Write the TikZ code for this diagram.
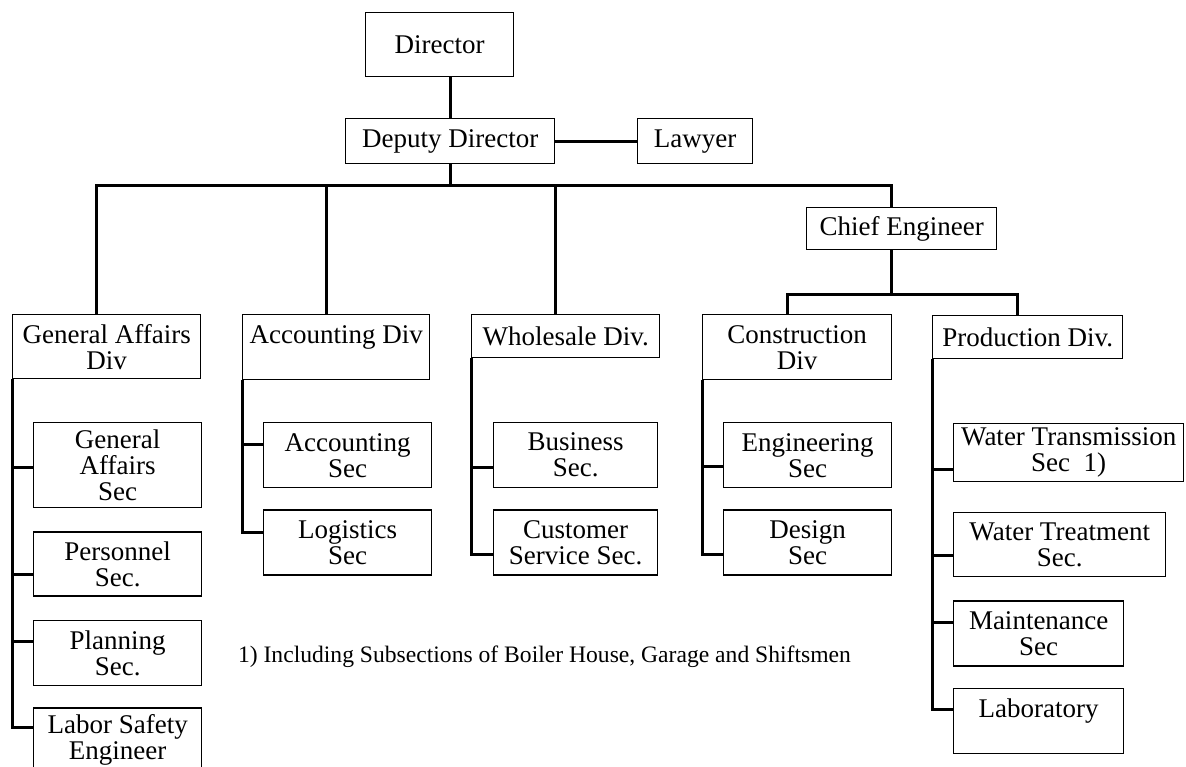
\documentclass[tikz,border=0pt]{standalone}
\usepackage{fontspec}
\setmainfont{Liberation Serif}
\usetikzlibrary{positioning}
\tikzset{%
    unit/.style = {draw, rectangle, line width=0.7pt, inner sep=2pt,
        anchor=north west, align=center, font=\fontsize{13.5}{13}\selectfont},
    link/.style = {line width=1.5pt}
}

\begin{document}
\begin{tikzpicture}[x=0.5pt, y=-0.5pt, node distance=11pt]
    \path[use as bounding box, clip] (0,0) rectangle (1186,766);
    % management
    \node [unit, minimum width=74pt, minimum height=32pt] (dir) at (365,12) {Director};
    \node [unit, minimum width=104.5pt, minimum height=22.5pt] (deputy) at (345,118) {Deputy Director};
    \node [unit, minimum width=57.5pt, minimum height=22.5pt] (lawyer) at (637,118) {Lawyer};
    \node [unit, minimum width=95pt, minimum height=21pt] (chief) at (806,207) {Chief Engineer};
    % divisions
    \node [unit, minimum width=94pt, minimum height=32pt] (gadiv) at (12,314) {General Affairs\\Div};
    \node [unit, minimum width=93.5pt, minimum height=32.5pt] (accdiv) at (242,314) {Accounting Div\\\mbox{}};
    \node [unit, minimum width=94pt, minimum height=21.5pt] (wsdiv) at (471,314) {Wholesale Div.};
    \node [unit, minimum width=94.5pt, minimum height=32.5pt] (condiv) at (702,314) {Construction\\Div};
    \node [unit, minimum width=95pt, minimum height=21.5pt] (prodiv) at (932,315) {Production Div.};
    % sections
    \node [unit, minimum width=84pt, minimum height=42.5pt] (gasec) at (33,422) {General\\Affairs\\Sec};
    \node [unit, minimum width=84pt, minimum height=32pt, below=11.5pt of gasec.south west, anchor=north west] (persec) {Personnel\\Sec.};
    \node [unit, minimum width=84pt, minimum height=32.5pt, below=11.5pt of persec.south west, anchor=north west] (plansec) {Planning\\Sec.};
    \node [unit, minimum width=84pt, minimum height=42.5pt, below=10.5pt of plansec.south west, anchor=north west] (safety) {Labor Safety\\Engineer\\\mbox{}};
    \node [unit, minimum width=84pt, minimum height=32.5pt] (accsec) at (263,422) {Accounting\\Sec};
    \node [unit, minimum width=84pt, minimum height=32.5pt, below=10.5pt of accsec.south west, anchor=north west] (logsec) {Logistics\\Sec};
    \node [unit, minimum width=82pt, minimum height=32.5pt] (bussec) at (493,422) {Business\\Sec.};
    \node [unit, minimum width=82pt, minimum height=32.5pt, below=10.5pt of bussec.south west, anchor=north west] (cussec) {Customer\\Service Sec.};
    \node [unit, minimum width=84pt, minimum height=32.5pt] (engsec) at (723,422) {Engineering\\Sec};
    \node [unit, minimum width=84pt, minimum height=32.5pt, below=10.5pt of engsec.south west, anchor=north west] (dessec) {Design\\Sec};
    \node [unit, minimum width=115pt, minimum height=28pt] (wtsec) at (953,423) {Water Transmission\\Sec\enspace 1)};
    \node [unit, minimum width=106pt, minimum height=32pt, below=15pt of wtsec.south west, anchor=north west] (wtrsec) {Water Treatment\\Sec.};
    \node [unit, minimum width=85pt, minimum height=32.5pt, below=11.5pt of wtrsec.south west, anchor=north west] (mntsec) {Maintenance\\Sec};
    \node [unit, minimum width=85pt, minimum height=32.5pt, below=10.5pt of mntsec.south west, anchor=north west] (labsec) {Laboratory\\\mbox{}};
    % note
    \node [anchor=west, font=\fontsize{11.8}{13}\selectfont] (note) at (231,657)
        {1) Including Subsections of Boiler House, Garage and Shiftsmen};
    % lines
    \draw[link] (deputy.north) -- (deputy.north |- dir.south);
    \draw[link] (deputy.east) -- (lawyer.west);
    \coordinate (bus) at ([yshift=-10.5pt]deputy.south);
    \draw[link] (deputy.south) -- (bus);
    \draw[link] ([xshift=-5pt]gadiv.north) |- (bus) -| ([xshift=-5pt]chief.north);
    \foreach \d in {accdiv, wsdiv}
        \draw[link] ([xshift=-5pt]\d.north) |- (bus);
    \coordinate (split) at ([xshift=-5pt, yshift=-22pt]chief.south);
    \draw[link] ([xshift=-5pt]chief.south) -- (split);
    \draw[link] ([xshift=-5pt]condiv.north) |- (split) -| ([xshift=-5pt]prodiv.north);
    \foreach \d/\s/\y in {gadiv/gasec/-1, gadiv/persec/-5, gadiv/plansec/6, gadiv/safety/11.5,
        accdiv/accsec/5.5, accdiv/logsec/5, wsdiv/bussec/-6, wsdiv/cussec/-6,
        condiv/engsec/-5.5, condiv/dessec/-6, prodiv/wtsec/-8.5, prodiv/wtrsec/-5.5,
        prodiv/mntsec/5.5, prodiv/labsec/6}
        \draw[link] (\d.south west) |- ([yshift=\y pt]\s.west);
\end{tikzpicture}
\end{document}
